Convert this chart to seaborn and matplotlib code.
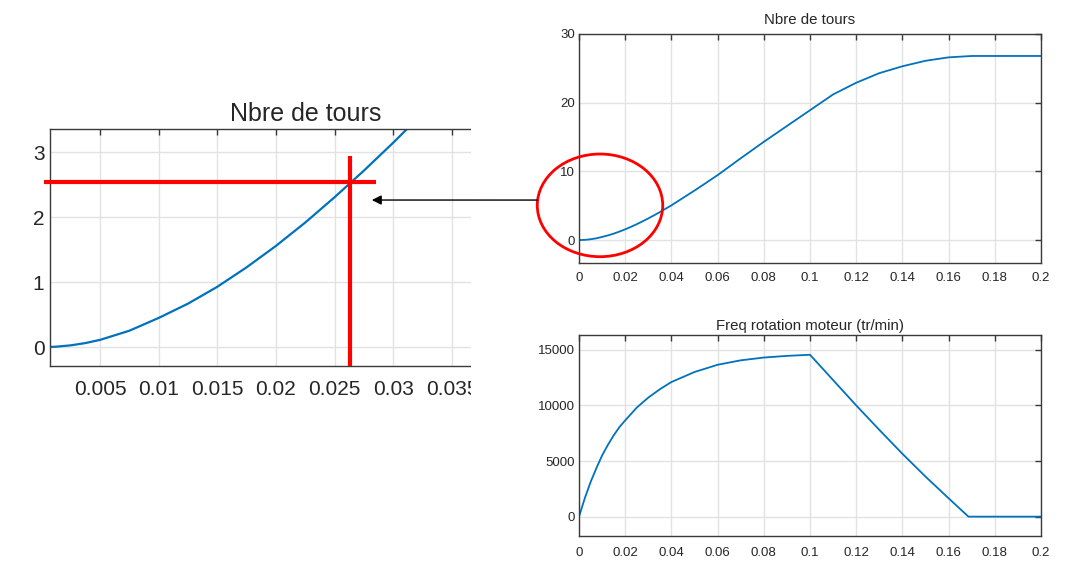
import matplotlib
matplotlib.use("Agg")
import matplotlib.pyplot as plt
import seaborn as sns
import pandas as pd
from matplotlib.patches import Ellipse, Rectangle, ConnectionPatch
from matplotlib.ticker import FormatStrFormatter

###############################################################################
# values
# Nbre de tours (upper right plot + its zoom on the left)
t_tours = [0, 0.00125, 0.0025, 0.00375, 0.005, 0.0075, 0.01, 0.0125, 0.015, 0.0175,
           0.02, 0.0225, 0.025, 0.0275, 0.03, 0.0325, 0.035, 0.04, 0.05, 0.06,
           0.07, 0.08, 0.09, 0.1, 0.11, 0.12, 0.13, 0.14, 0.15, 0.16, 0.17, 0.2]
n_tours = [0, 0.007, 0.028, 0.063, 0.112, 0.253, 0.45, 0.67, 0.93, 1.23,
           1.56, 1.92, 2.31, 2.72, 3.15, 3.6, 4.07, 5.05, 7.2, 9.45,
           11.9, 14.3, 16.6, 18.9, 21.2, 22.9, 24.3, 25.3, 26.1, 26.6, 26.8, 26.8]

# Freq rotation moteur (tr/min)
t_freq = [0, 0.0025, 0.005, 0.0075, 0.01, 0.0125, 0.015, 0.0175, 0.02, 0.025,
          0.03, 0.035, 0.04, 0.05, 0.06, 0.07, 0.08, 0.09, 0.1, 0.12,
          0.13, 0.14, 0.15, 0.16, 0.1686, 0.2]
freq = [0, 1650, 3100, 4350, 5500, 6450, 7300, 8050, 8650, 9800,
        10700, 11450, 12100, 13000, 13650, 14050, 14300, 14450, 14550, 10000,
        7800, 5650, 3600, 1650, 0, 0]

# crosshair read on the zoomed plot
T_MARK = 0.02635
N_MARK = 2.55

BLUE = "#0072BD"
W, H = 1073, 564
###############################################################################

sns.set_theme(style="whitegrid")
plt.rcParams["font.family"] = ["Liberation Sans", "DejaVu Sans"]

df_tours = pd.DataFrame({"t": t_tours, "tours": n_tours})
df_freq = pd.DataFrame({"t": t_freq, "freq": freq})

fig = plt.figure(figsize=(W / 100, H / 100), dpi=100)


def px_axes(x0, y0, x1, y1):
    # axes placed with pixel coordinates measured from the top left corner
    return fig.add_axes([x0 / W, 1 - y1 / H, (x1 - x0) / W, (y1 - y0) / H])


def matlab_look(ax, size, xpad, ypad):
    for s in ax.spines.values():
        s.set_color("#3a3a3a")
        s.set_linewidth(1.0)
    ax.tick_params(direction="in", length=4, width=1, top=True, right=True,
                   color="#3a3a3a", labelcolor="#262626", labelsize=size)
    ax.tick_params(axis="x", pad=xpad)
    ax.tick_params(axis="y", pad=ypad)
    ax.grid(True, color="#e2e2e2", linewidth=1)
    ax.set_axisbelow(True)
    ax.set_xlabel("")
    ax.set_ylabel("")


# left: zoom on the start of the turns curve
ax_l = px_axes(50, 129, 520, 366)
sns.lineplot(data=df_tours, x="t", y="tours", ax=ax_l, color=BLUE, linewidth=1.6)
ax_l.set_xlim(0.00074, 0.0408)
ax_l.set_ylim(-0.29, 3.36)
ax_l.set_xticks([0.005, 0.01, 0.015, 0.02, 0.025, 0.03, 0.035])
ax_l.set_yticks([0, 1, 2, 3])
ax_l.xaxis.set_major_formatter(FormatStrFormatter("%g"))
matlab_look(ax_l, 15, 10, 4)
ax_l.tick_params(right=False)
ax_l.set_title("Nbre de tours", fontsize=18, x=0.543, pad=6)
ax_l.plot([0.00023, 0.0285], [N_MARK, N_MARK], color="red", lw=3,
          solid_capstyle="butt", clip_on=False, zorder=4)
ax_l.plot([T_MARK, T_MARK], [2.94, -0.29], color="red", lw=3,
          solid_capstyle="butt", clip_on=False, zorder=4)

# right top: number of turns
ax_t = px_axes(579, 34, 1041, 262.7)
sns.lineplot(data=df_tours, x="t", y="tours", ax=ax_t, color=BLUE, linewidth=1.3)
ax_t.set_xlim(0, 0.2)
ax_t.set_ylim(-3.3, 30)
ax_t.set_xticks([i * 0.02 for i in range(11)])
ax_t.set_yticks([0, 10, 20, 30])
ax_t.xaxis.set_major_formatter(FormatStrFormatter("%g"))
matlab_look(ax_t, 9.5, 7, 3)
ax_t.set_title("Nbre de tours", fontsize=10.8, pad=7)
ax_t.add_patch(Ellipse((0.00909, 5.05), width=0.0543, height=14.95, fill=False,
                       edgecolor="red", linewidth=2, clip_on=False, zorder=4))

# right bottom: motor speed
ax_b = px_axes(579, 335.3, 1041, 536)
sns.lineplot(data=df_freq, x="t", y="freq", ax=ax_b, color=BLUE, linewidth=1.3)
ax_b.set_xlim(0, 0.2)
ax_b.set_ylim(-1740, 16300)
ax_b.set_xticks([i * 0.02 for i in range(11)])
ax_b.set_yticks([0, 5000, 10000, 15000])
ax_b.xaxis.set_major_formatter(FormatStrFormatter("%g"))
matlab_look(ax_b, 9.5, 8, 3)
ax_b.set_title("Freq rotation moteur (tr/min)", fontsize=10.8, pad=4)

# the zoomed picture is cropped on its right side
fig.add_artist(Rectangle((471 / W, 1 - 410 / H), (530 - 471) / W, (410 - 95) / H,
                         transform=fig.transFigure, facecolor="white",
                         edgecolor="none", zorder=5))

# arrow from the circled region to the zoom
arrow = ConnectionPatch(xyA=(-0.0182, 5.82), coordsA="data", axesA=ax_t,
                        xyB=(0.02817, 2.266), coordsB="data", axesB=ax_l,
                        arrowstyle="-|>", mutation_scale=14, color="black",
                        linewidth=1, shrinkA=0, shrinkB=0, zorder=6)
arrow.set_annotation_clip(False)
fig.add_artist(arrow)

fig.savefig("out.png", dpi=100)
